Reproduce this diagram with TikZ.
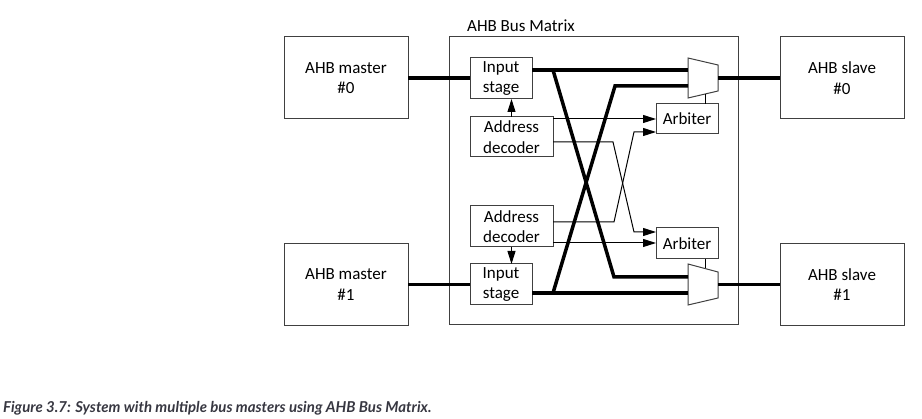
\documentclass[tikz,border=0pt]{standalone}
\usepackage{fontspec}
\setmainfont{Carlito}
\newfontfamily\capfont{Lato}
\usetikzlibrary{arrows.meta}
\definecolor{boxgray}{RGB}{64,64,64}
\definecolor{capgray}{RGB}{55,55,65}
\tikzset{
  txt/.style={font=\fontsize{17}{20.5}\selectfont, align=center},
  blk/.style={txt, draw=boxgray, line width=1pt, fill=white,
    inner sep=0pt, outer sep=0pt},
  bus/.style={line width=3.5pt, line join=miter},
  sig/.style={line width=1pt},
  arr/.style={sig, -{Triangle[length=13pt,width=8pt]}}
}
\begin{document}
\begin{tikzpicture}[x=1pt,y=-1pt]
  \useasboundingbox (0,0) rectangle (922,419);
  % Matriz
  \node[blk, minimum width=289, minimum height=288] (matrix) at (593.5,181) {};
  \node[txt, anchor=base west, inner sep=0pt] (mtitle) at (467,32) {AHB Bus Matrix};
  % Maestros y esclavos
  \foreach \i/\y in {0/78,1/284.5} {
    \node[blk, minimum width=124, minimum height=82] (master\i) at (346,\y) {AHB master\\\#\i};
    \node[blk, minimum width=124, minimum height=82] (slave\i) at (842,\y) {AHB slave\\\#\i};
  }
  % Etapas internas
  \node[blk, minimum width=62, minimum height=41] (is0) at (501,78.5) {Input\\stage};
  \node[blk, minimum width=83, minimum height=40] (ad0) at (511.5,137) {Address\\decoder};
  \node[blk, minimum width=83, minimum height=41] (ad1) at (511.5,226.5) {Address\\decoder};
  \node[blk, minimum width=62, minimum height=41] (is1) at (501,284.5) {Input\\stage};
  \node[blk, minimum width=62, minimum height=30] (arb0) at (687,119) {Arbiter};
  \node[blk, minimum width=62, minimum height=31] (arb1) at (687,243.5) {Arbiter};
  % Multiplexores
  \draw[draw=boxgray, line width=1pt, fill=white]
    (688,58) -- (718,65) -- (718,91) -- (688,98) -- cycle;
  \draw[draw=boxgray, line width=1pt, fill=white]
    (688,264) -- (718,272) -- (718,298) -- (688,305) -- cycle;
  \coordinate (mux0a) at (688,70);
  \coordinate (mux0b) at (688,86);
  \coordinate (mux0out) at (718,78);
  \coordinate (mux0sel) at (705,94.3);
  \coordinate (mux1a) at (688,277);
  \coordinate (mux1b) at (688,293);
  \coordinate (mux1out) at (718,284.5);
  \coordinate (mux1sel) at (705,268.5);
  % Buses
  \coordinate (fork0) at (553,70);
  \coordinate (fork1) at (553,293);
  \coordinate (bend0) at (614,277);
  \coordinate (bend1) at (615,86);
  \draw[bus] (master0.east) -- (master0.east -| is0.west);
  \draw[bus] (master1.east) -- (master1.east -| is1.west);
  \draw[bus] (is0.east |- mux0a) -- (mux0a);
  \draw[bus] (is1.east |- mux1b) -- (mux1b);
  \draw[bus] (fork0) -- (bend0) -- (mux1a);
  \draw[bus] (fork1) -- (bend1) -- (mux0b);
  \draw[bus] (mux0out) -- (slave0.west);
  \draw[bus] (mux1out) -- (slave1.west);
  % Decodificadores y arbitros
  \coordinate (ad0b) at (553,142);
  \coordinate (ad1a) at (553,222);
  \coordinate (in0b) at (656,132);
  \coordinate (in1a) at (656,232);
  \draw[arr] (ad0.north) -- (ad0.north |- is0.south);
  \draw[arr] (ad1.south) -- (ad1.south |- is1.north);
  \draw[arr] (ad0.east |- arb0.west) -- (arb0.west);
  \draw[arr] (ad1.east |- 0,243) -- (arb1.west |- 0,243);
  \draw[arr] (ad0b) -- (613,142) -- (634,232) -- (in1a);
  \draw[arr] (ad1a) -- (614,222) -- (634,132) -- (in0b);
  \draw[sig] (mux0sel |- arb0.north) -- (mux0sel);
  \draw[sig] (mux1sel |- arb1.south) -- (mux1sel);
  % Pie de figura
  \node[anchor=base west, inner sep=0pt, text=capgray,
    font=\capfont\bfseries\itshape\fontsize{15}{18}\selectfont] (cap) at (3,413)
    {Figure 3.7: System with multiple bus masters using AHB Bus Matrix.};
\end{tikzpicture}
\end{document}
